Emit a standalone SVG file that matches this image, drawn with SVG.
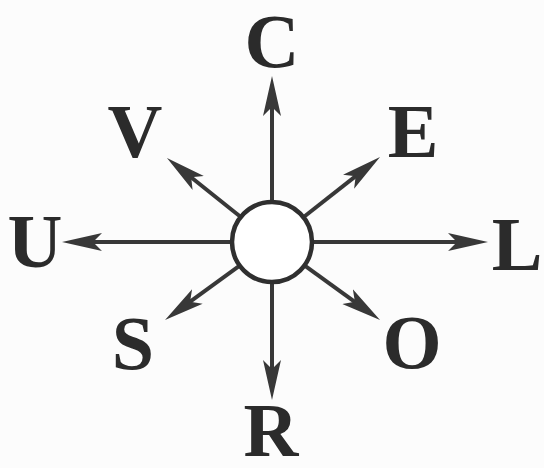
<svg xmlns="http://www.w3.org/2000/svg" width="544" height="468" viewBox="0 0 544 468">
  <style>
    .edge { stroke: #383838; stroke-width: 4; fill: none; }
    .hub { fill: #ffffff; stroke: #2f2f2f; stroke-width: 4.5; }
  </style>
  <defs>
    <marker id="arr" markerUnits="userSpaceOnUse" markerWidth="44" markerHeight="22" viewBox="0 -11 44 22" refX="20" refY="0" orient="auto">
      <path d="M40,0 L0,-9 L9,0 L0,9 Z" fill="#383838"/>
    </marker>
  </defs>
  <rect width="544" height="468" fill="#fcfcfc"/>
  <g id="connectors">
    <line class="edge" x1="272" y1="202" x2="272" y2="96" marker-end="url(#arr)"/>
    <line class="edge" x1="272" y1="282" x2="272" y2="380" marker-end="url(#arr)"/>
    <line class="edge" x1="232" y1="242" x2="82" y2="242" marker-end="url(#arr)"/>
    <line class="edge" x1="312" y1="242" x2="468" y2="242" marker-end="url(#arr)"/>
    <line class="edge" x1="240.8" y1="217" x2="182.6" y2="170.5" marker-end="url(#arr)"/>
    <line class="edge" x1="303.4" y1="217.2" x2="364.3" y2="169.4" marker-end="url(#arr)"/>
    <line class="edge" x1="239.7" y1="265.6" x2="181.2" y2="308.2" marker-end="url(#arr)"/>
    <line class="edge" x1="304.4" y1="265.4" x2="363.8" y2="308.3" marker-end="url(#arr)"/>
  </g>
  <g id="center"><circle class="hub" cx="272" cy="242" r="40"/></g>
  <g id="C" transform="translate(272,67) scale(1.52)"><text x="0" y="0" font-family="Liberation Serif" font-weight="bold" font-size="50" fill="#2b2b2b" text-anchor="middle">C</text></g>
  <g id="V" transform="translate(135,157) scale(1.52)"><text x="0" y="0" font-family="Liberation Serif" font-weight="bold" font-size="50" fill="#2b2b2b" text-anchor="middle">V</text></g>
  <g id="E" transform="translate(413,157) scale(1.52)"><text x="0" y="0" font-family="Liberation Serif" font-weight="bold" font-size="50" fill="#2b2b2b" text-anchor="middle">E</text></g>
  <g id="U" transform="translate(35,267) scale(1.52)"><text x="0" y="0" font-family="Liberation Serif" font-weight="bold" font-size="50" fill="#2b2b2b" text-anchor="middle">U</text></g>
  <g id="L" transform="translate(517,270) scale(1.52)"><text x="0" y="0" font-family="Liberation Serif" font-weight="bold" font-size="50" fill="#2b2b2b" text-anchor="middle">L</text></g>
  <g id="S" transform="translate(133,369) scale(1.52)"><text x="0" y="0" font-family="Liberation Serif" font-weight="bold" font-size="50" fill="#2b2b2b" text-anchor="middle">S</text></g>
  <g id="O" transform="translate(412,368) scale(1.52)"><text x="0" y="0" font-family="Liberation Serif" font-weight="bold" font-size="50" fill="#2b2b2b" text-anchor="middle">O</text></g>
  <g id="R" transform="translate(271,456) scale(1.52)"><text x="0" y="0" font-family="Liberation Serif" font-weight="bold" font-size="50" fill="#2b2b2b" text-anchor="middle">R</text></g>
</svg>
